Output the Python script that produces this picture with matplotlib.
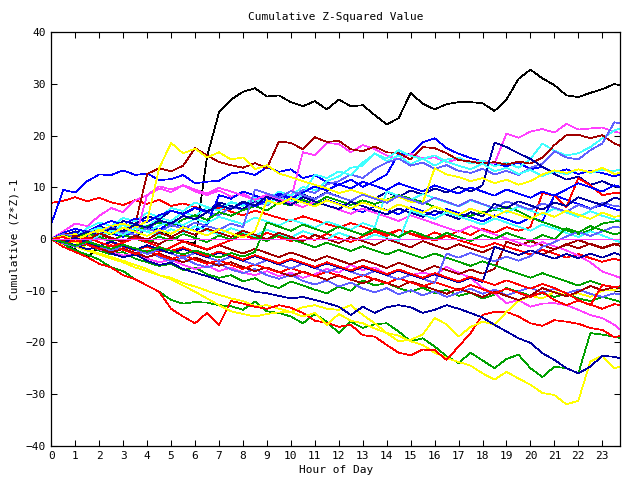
import numpy as np
import matplotlib
matplotlib.use("Agg")
import matplotlib.pyplot as plt

# half-hour samples, 0 .. 24 h
hours = np.arange(0, 24.5, 0.5)

RED, GREEN, BLUE, MAGENTA, CYAN = '#ff0000', '#00a000', '#0000ff', '#ff40ff', '#40ffff'
DARKRED, YELLOW, BLACK, SLATE, NAVY = '#a00000', '#ffff00', '#000000', '#6060ff', '#0000a0'

black_1 = [0, -1, -2, -3.5, -1.5, -2, -0.5, 0.5,
           2, 1.5, 0.5, -0.5, -0.8, 16, 24.5, 27,
           28.5, 29.2, 27.6, 27.8, 26.5, 25.7, 26.7, 25.1,
           27, 25.7, 25.9, 24, 22.2, 23.4, 28.3, 26.2,
           25.1, 26.1, 26.5, 26.5, 26.3, 24.8, 27, 31,
           32.8, 31.1, 29.8, 27.8, 27.5, 28.3, 29, 30, 29.5]
magenta_1 = [0, 1.5, 3, 2.5, 4.5, 6, 5.2, 7.5,
             8.5, 10.2, 9.6, 10.4, 9.2, 8.5, 9.4, 8.2,
             8.8, 7.5, 8.4, 7.2, 7.8, 16.8, 16.2, 18.6,
             18.4, 16.8, 18.2, 17.4, 16.2, 15.4, 16.5, 15.6,
             15.8, 14.9, 15.5, 14.8, 15.2, 14.6, 20.4, 19.6,
             20.8, 21.3, 20.6, 22.3, 21.2, 21.4, 21.6, 20.8, 20.3]
darkred_1 = [0, 0.8, 0.2, 1.5, 0.8, 2.2, 1.6, 2.8,
             12.6, 13.7, 13.1, 14.2, 17.6, 16.2, 14.9, 14.3,
             13.8, 14.7, 13.7, 18.9, 18.6, 17.4, 19.7, 18.8,
             19, 17.4, 17, 17.9, 16.8, 16.6, 15.4, 17.8,
             17.6, 16.6, 15.3, 15, 14.6, 14.9, 14.4, 15,
             14.6, 15.8, 18.2, 20.1, 20.2, 19.5, 20.1, 18.5, 17.6]
slate_1 = [0, -0.6, 0.4, -0.8, 0.5, 1.8, 1.2, 2.6,
           2, 3.4, 2.8, 4.5, 3.9, 5.2, 4.6, 6.3,
           5.6, 7.2, 6.5, 8.4, 7.8, 9.5, 8.9, 10.6,
           11.2, 12.5, 11.8, 13.6, 14.8, 15.6, 14.2, 14.8,
           13.6, 14.3, 13.2, 12.8, 13.6, 12.5, 13.2, 12.4,
           13.8, 14.6, 17, 15.8, 15.4, 17.2, 18.5, 22.6, 22.2]
cyan_1 = [0, -0.5, 0.6, 1.2, 0.3, 1.6, 2.2, 3,
          2.4, 4.1, 3.5, 5.2, 4.4, 6.1, 5.5, 7.2,
          6.5, 8.1, 7.4, 9.2, 8.4, 10.1, 9.4, 11.2,
          12.1, 13.8, 14.2, 16.6, 15.1, 16.2, 14.5, 15.6,
          14.2, 15.4, 15.8, 14.6, 15.2, 14.1, 14.8, 13.8,
          15.5, 18.5, 17.1, 16.2, 16.6, 17.8, 19.5, 21, 21.8]
cyan_2 = [0, 1.1, 0.5, 2.1, 3.2, 2.5, 4.1, 3.4,
          5.1, 4.2, 6, 5.4, 7.1, 6.2, 5.5, 7.1,
          6.4, 7.6, 6.8, 8, 7.2, 8.6, 12.5, 11.8,
          13.1, 12.4, 14.8, 16.5, 15.6, 17.2, 16.1, 15.5,
          16.2, 15, 14.2, 13.5, 14.6, 13.1, 13.8, 12.6,
          13.4, 12.2, 13.1, 12.5, 13.5, 12.8, 13.4, 13.2, 13.7]
blue_1 = [3, 9.5, 9, 11.2, 12.5, 12.4, 13.3, 12.4,
          12.7, 11.4, 11.6, 12.4, 10.8, 11.1, 11.3, 12.7,
          13, 12.4, 13.9, 13, 13.5, 11.8, 12.4, 11,
          10.5, 11.5, 10.1, 11.2, 12.5, 16.6, 16.4, 18.7,
          19.5, 17.6, 16.5, 15.7, 15, 14.6, 14.1, 14.8,
          13.5, 14, 12.8, 13.5, 12.6, 13.2, 12.8, 12.1, 12.9]
navy_1 = [0, 0.6, 1.5, 0.9, 2.4, 1.8, 3.5, 2.9,
          4.4, 3.8, 5.5, 4.9, 6.1, 5.4, 7.1, 6.4,
          5.8, 7.5, 6.9, 8.1, 7.2, 8.6, 7.8, 9.1,
          8.2, 7.4, 8.6, 7.8, 9.1, 8.2, 9.4, 8.6,
          9.8, 9, 10.1, 9.2, 10.4, 18.7, 17.8, 16.6,
          15.5, 14, 12.6, 11.5, 12.1, 10.5, 11.2, 10.2, 9.8]
red_1 = [7, 7.4, 8.1, 7.3, 8, 7.1, 6.6, 7.5,
         6.8, 7.6, 6.4, 6.9, 6.2, 5.4, 6.1, 5.3,
         4.6, 5.5, 4.8, 4.1, 3.5, 4.4, 3.7, 2.9,
         2.2, 3.1, 2.4, 1.6, 0.9, 1.8, 1.1, 0.4,
         -0.3, 0.6, -0.2, -0.9, -1.6, -0.8, -1.5, -2.2,
         -3, -2.1, -2.8, -3.6, -2.9, -3.7, -4.4, -3.8, -4.5]
green_1 = [0, -1, -2.2, -3, -4, -5.5, -6.2, -7.8,
           -9, -10.2, -11.8, -12.5, -12.2, -12.3, -12.8, -13,
           -13.7, -12.1, -14, -14.3, -15, -16.3, -14.5, -16,
           -18.2, -16, -17.2, -16.5, -16.3, -17.9, -19.8, -19.2,
           -20.8, -22.7, -24, -22, -23.5, -25, -23.2, -22.4,
           -25, -26.7, -24.7, -25, -26, -18.2, -18.5, -18.9, -19.5]
red_2 = [0, -1.5, -2.5, -3.5, -4.8, -5.5, -7, -7.8,
         -9, -10.2, -13.5, -15, -16.3, -14.3, -16.6, -12,
         -12.5, -13.1, -13.5, -12.8, -13.3, -14.3, -15.8, -16.2,
         -17, -16.6, -18.6, -18.9, -20.5, -22, -22.5, -21.4,
         -21.5, -23.4, -20.8, -18.2, -14.7, -14.1, -14.1, -15,
         -16.3, -16.8, -15.7, -16, -16.4, -17.2, -17.6, -19, -18.5]
navy_2 = [0, -0.5, -1.2, -2, -1.5, -2.8, -3.5, -3,
          -4.2, -5, -4.6, -5.8, -6.5, -7.2, -8, -8.8,
          -9.5, -10.2, -10.5, -11, -11.5, -11.2, -11.8, -12.4,
          -13.1, -14.7, -13.1, -14.3, -13.2, -12.8, -13.2, -14.3,
          -13.7, -12.8, -13.5, -14.3, -15.2, -16.6, -17.9, -19.2,
          -20.1, -22.1, -23.4, -25, -26, -24.7, -22.6, -22.8, -23.4]
yellow_1 = [0, -0.5, -1.5, -2.2, -3, -3.8, -4.5, -5.5,
            -6.2, -7, -7.5, -8.5, -9.2, -10, -10.8, -11.5,
            -12, -13, -12.8, -13.5, -14.1, -13.2, -12.8, -13.5,
            -13.7, -12.8, -14.7, -16.3, -18.2, -18.7, -19.8, -20.5,
            -22, -23, -23.8, -24.5, -26, -27.2, -25.7, -27,
            -28.2, -29.8, -30.2, -32, -31.3, -23.7, -22.6, -25, -24.4]
yellow_2 = [0, -1, -0.5, -2, -2.8, -3.5, -4.2, -5,
            -5.8, -7, -7.8, -9, -10.2, -11.5, -12.8, -14,
            -14.5, -15, -14.5, -14.2, -14.1, -15, -14.3, -16.6,
            -14.5, -15.8, -16.3, -17.3, -18.2, -19.8, -19.5, -18.5,
            -15.3, -16.5, -18.9, -17, -16, -16.6, -14.1, -12,
            -11, -11.5, -10.2, -11, -10.5, -11.2, -10, -9.9, -8.9]
green_2 = [0, -0.8, -1.5, -1, -2.2, -3, -2.5, -3.8,
           -4.5, -5.2, -4.8, -6, -5.5, -6.8, -7.5, -7,
           -8.2, -7.6, -8.8, -9.5, -8.2, -9, -9.8, -10.5,
           -9.2, -10, -8, -9, -8.5, -9.5, -10.2, -9.4,
           -10.5, -9.8, -11, -10.4, -11.5, -10.8, -9.5, -10.2,
           -11, -10.5, -11.2, -10.6, -11.5, -12, -11.2, -11.8, -12.5]
magenta_2 = [0, -0.5, -1.2, -0.8, -2, -2.5, -3.2, -2.8,
             -3.8, -4.5, -4, -5, -5.8, -5.2, -6.2, -5.5,
             -6.5, -7, -6.2, -7.2, -6.5, -7.5, -6.8, -5.8,
             -6.5, -5, -6, -5.5, -6.8, -6, -7, -6.5,
             -7, -5.4, -6.5, -7.5, -9.5, -10.5, -12.4, -11.8,
             -13.1, -12.5, -12.4, -12.8, -13.7, -14.7, -15.3, -16.6, -18.5]
yellow_3 = [0, 0.5, 1, 0.2, 1.5, 2.5, 3, 2.2,
            3.5, 13.7, 18.6, 16.6, 17.5, 15.8, 16.8, 15.4,
            15.8, 13.5, 14.3, 12.7, 12, 11.2, 10.5, 9.8,
            8.9, 9.5, 8.8, 8, 7.5, 8.2, 7.2, 7,
            13.7, 12.5, 12, 11.2, 11.8, 10.8, 11.5, 10.5,
            11.2, 12.5, 13.3, 12.8, 13.5, 12.9, 13.8, 12.6, 13]
green_3 = [0, 0.4, -0.5, 0.8, 1.5, 0.9, 2.2, 1.6,
           2.5, 3.2, 2.4, 3.8, 4.6, 3.7, 5.2, 4.5,
           5.6, 6.4, 5.5, 7.1, 6.5, 7.6, 6.8, 8.2,
           7.4, 6.6, 7.5, 6.8, 7.6, 8.5, 7.8, 7.2,
           6.2, 5.4, 4.6, 4.5, 5.2, 5.6, 6.2, 5.4,
           4.2, 3.3, 2.5, 1.7, 1, 1.7, 3, 3.4, 3.7]
red_3 = [0, -0.8, 0.3, -0.5, -1.4, -0.6, -1.5, -2.2,
         -1.4, -2.5, -1.6, -0.4, -1.2, -2, -1.1, -0.2,
         0.8, 0, 1.2, 0.4, -0.4, 0.6, -0.2, 1,
         0.2, -0.6, 0.5, 1.4, 0.6, 1.8, 1, 0.2,
         1.3, 0.5, 1.6, 0.8, 2, 1.2, 2.3, 1.6,
         2.3, 8.9, 8.4, 6.2, 11.8, 10.4, 8.5, 8.9, 9]
navy_3 = [0, -0.6, 0.5, 1.4, 0.7, 2.1, 1.5, 2.8,
          2.2, 3.6, 3, 4.5, 3.8, 5.2, 6.6, 5.8,
          7.3, 6.5, 8.2, 7.4, 6.6, 8.1, 7.3, 6.5,
          5.8, 7.2, 6.4, 5.5, 4.8, 5.9, 5.1, 4.3,
          5.5, 4.7, 3.9, 5.2, 4.4, 6.8, 6, 7.3,
          6.5, 5.7, 7.1, 6.4, 8.1, 7.3, 6.6, 8, 7.5]
blue_2 = [0, 0.5, 1.2, 0.6, 1.8, 1.1, 0.4, 1.6,
          2.5, 1.8, 3.2, 2.4, 1.6, 2.8, 8.5, 7.8,
          9.2, 8.4, 7.6, 8.8, 8, 7.2, 6.4, 7.6,
          6.8, 6, 5.2, 6.4, 5.6, 4.8, 6.2, 5.4,
          4.6, 5.8, 5, 4.2, 3.4, 4.6, 3.8, 3,
          4.2, 3.4, 8.5, 7.6, 6.8, 5.9, 6.6, 5.8, 5.2]
slate_2 = [0, -0.7, -1.3, -0.5, -1.6, -2.4, -1.8, -3,
           -2.3, -3.5, -4.3, -3.6, -4.8, -5.5, -4.7, -5.9,
           -6.6, -5.8, -7, -7.7, -6.9, -8.1, -8.8, -8,
           -9.2, -8.4, -9.6, -10.3, -9.5, -10.7, -9.9, -10.9,
           -10.1, -11.2, -10.4, -9.6, -10.6, -9.8, -10.9, -10.1,
           -9.4, -10.4, -9.6, -10.5, -9.8, -10.6, -11.2, -10.5, -11]
slate_3 = [0, 1, 0.3, 1.6, 0.9, 2.3, 1.5, 0.8,
           2, 1.3, 2.7, 2, 3.2, 2.5, 1.8, 3,
           2.3, 9.6, 8.8, 8, 9.3, 8.5, 7.7, 9,
           8.2, 7.4, 8.6, 7.8, 7, 8.4, 7.6, 6.8,
           8, 7.2, 6.4, 7.6, 6.8, 6, 7.3, 6.5,
           5.7, 6.9, 6.1, 5.3, 6.6, 5.8, 7, 6.4, 6.2]
cyan_3 = [0, 0.8, 0.2, 1.4, 2.2, 1.5, 2.8, 2.1,
          1.4, 2.6, 3.4, 2.7, 3.9, 3.1, 4.3, 3.6,
          2.9, 4.2, 3.4, 2.6, 3.8, 3, 2.2, 3.4,
          2.6, 1.8, 3.1, 2.3, 9.2, 8.4, 7.6, 8.7,
          7.9, 7.1, 6.3, 7.5, 6.7, 5.9, 5.1, 6.3,
          5.5, 4.7, 5.9, 5.1, 4.3, 5.4, 4.5, 3.8, 3.7]
cyan_4 = [0, -0.6, 0.3, -0.4, 0.7, 1.5, 0.8, 2.1,
          1.4, 0.7, 1.9, 1.2, 2.5, 1.7, 0.9, 2.1,
          1.3, 0.6, 1.8, 1, 0.3, 1.5, 0.8, 0,
          1.2, 0.4, -0.3, 0.9, 0.2, -0.5, 5.5, 4.7,
          3.9, 5.2, 4.4, 3.6, 2.8, 4, 3.2, 2.4,
          1.6, 2.8, 2, 1.2, 0.4, 1.5, 0.7, -0.2, -1]
magenta_3 = [0, 0.6, -0.2, 0.9, 0.2, -0.5, 0.8, 0.1,
             8.5, 9.8, 9.1, 10.4, 9.6, 8.8, 9.9, 9.2,
             8.4, 7.6, 8.6, 7.8, 7, 6.2, 7.3, 6.5,
             5.7, 4.9, 5.9, 5.1, 4.3, 3.5, 4.6, 3.8,
             3, 2.2, 1.4, 2.5, 1.7, 0.9, 0.1, -0.7,
             -1.5, -0.6, -1.4, -2.2, -3.2, -4.5, -6.3, -7.1, -7.9]
magenta_zero = [0.0] * len(hours)
darkred_2 = [0, 1.2, 0.5, -0.3, 0.9, 0.1, -0.6, 0.6,
             -0.2, -1, 0.3, -0.5, -1.3, -2.1, -1.2, -2,
             -2.8, -1.9, -2.7, -3.5, -2.6, -3.4, -4.2, -3.3,
             -4.1, -4.9, -4, -4.8, -5.6, -4.6, -5.4, -6.2,
             -5.2, -6, -6.8, -5.9, -6.7, -5.8, -0.5, -1.3,
             -0.4, -1.2, -2, -1.1, -0.2, -1, -1.8, -1, -1.7]
darkred_3 = [0, -0.8, -1.5, -0.9, -1.8, -2.6, -1.9, -2.7,
             -3.5, -2.8, -3.7, -4.5, -3.6, -4.4, -5.2, -4.5,
             -5.4, -6.2, -5.5, -6.4, -7.2, -6.3, -7.1, -7.9,
             -7, -7.8, -8.6, -7.7, -8.5, -9.3, -8.2, -9,
             -9.8, -10.6, -9.6, -10.4, -11.2, -10.2, -11, -11.8,
             -10.9, -9.5, -10.3, -11.1, -10.2, -9.1, -9.9, -9.3, -9.9]
red_4 = [0, -0.9, -0.2, -1.1, -1.9, -1.2, -2.1, -2.9,
         -2.2, -3.1, -3.9, -3.1, -4, -4.8, -4.1, -5,
         -5.8, -4.9, -5.7, -6.5, -5.6, -6.4, -7.2, -6.3,
         -7.1, -7.9, -7, -7.8, -8.6, -7.6, -8.4, -9.2,
         -8.3, -9.1, -9.9, -8.9, -9.7, -10.5, -9.6, -10.4,
         -11.2, -10.3, -11.8, -12.8, -11.9, -12.7, -13.5, -12.6, -13]
red_5 = [0, 0.4, -0.5, 0.3, -0.6, -1.4, -0.7, 0.2,
         -0.6, -1.5, -2.3, -1.6, -2.5, -3.3, -2.4, -3.2,
         -4, -3.1, -3.9, -4.7, -3.8, -4.6, -5.4, -4.5,
         -5.3, -6.1, -5.2, -6, -6.8, -5.9, -6.7, -7.5,
         -6.6, -7.4, -8.2, -7.3, -8.1, -8.9, -8, -8.8,
         -9.6, -8.7, -9.5, -10.5, -11.8, -12.8, -8.9, -9.3, -9]
green_4 = [0, 0.7, 0, 1.1, 0.4, -0.4, 0.8, 0.1,
           -0.7, 0.5, -0.3, 1, 0.2, -0.6, 0.7, -0.1,
           1.2, 0.4, -0.4, 0.8, 0, -0.8, -1.6, -0.7,
           -1.5, -2.3, -1.4, -2.2, -3, -2.1, -2.9, -3.7,
           -2.8, -3.6, -4.4, -5.2, -4.3, -5.1, -5.9, -6.7,
           -7.5, -6.6, -7.4, -8.2, -9, -8.1, -8.9, -9.3, -9.5]
navy_4 = [0, -0.7, 0.2, -0.6, -1.4, -0.5, -1.3, -2.1,
          -1.2, -2, -2.8, -1.9, -2.7, -3.5, -2.6, -3.4,
          -4.2, -3.3, -4.1, -4.9, -4, -4.8, -5.6, -4.7,
          -5.5, -6.3, -5.4, -6.2, -7, -6.1, -6.9, -7.7,
          -6.8, -7.6, -8.4, -7.5, -8.3, -1.5, -2.3, -3.1,
          -2.2, -3, -3.8, -2.9, -3.7, -2.8, -3.6, -2.7, -3.5]
darkred_4 = [0, -0.5, 0.6, -0.2, 1.1, 0.3, -0.5, 0.7,
             -0.1, 1.2, 0.4, 1.6, 0.8, 2, 1.2, 0.4,
             1.6, 0.8, 0, 1.2, 0.4, -0.4, 0.8, 0,
             -0.8, 0.4, -0.4, -1.2, 0, -0.8, -1.6, -0.4,
             -1.2, -2, -1, -1.8, -2.6, -1.5, -2.3, -3.1,
             -2.2, -3, -2, -1, -1.8, -0.9, -1.7, -0.9, -0.8]
blue_3 = [0, 1.2, 2, 1.4, 2.6, 3.5, 2.8, 4,
          3.3, 4.6, 5.5, 4.8, 6, 5.2, 6.5, 5.8,
          7, 6.3, 7.5, 8.6, 7.8, 9, 10.2, 9.4,
          10.6, 9.8, 11.1, 10.3, 9.5, 10.8, 10, 9.2,
          10.4, 9.6, 8.8, 10, 9.2, 8.4, 9.6, 8.8,
          8, 9.2, 8.4, 9.6, 10.8, 10, 9.2, 10.4, 9.8]
slate_4 = [0, -0.8, -1.5, -0.6, -1.4, -2.2, -1.3, -2.1,
           -2.9, -2, -2.8, -3.6, -2.7, -3.5, -4.3, -3.4,
           -4.2, -5, -4.1, -4.9, -5.7, -4.8, -5.6, -6.4,
           -5.5, -6.3, -7.1, -6.2, -7, -7.8, -6.9, -7.7,
           -8.5, -2.8, -3.6, -2.7, -3.5, -4.3, -3.4, -4.2,
           -3.3, -1.5, -0.6, 0.5, 1.4, 0.6, 1.5, 2.4, 2]
green_5 = [0, -0.6, -1.3, -0.5, -1.2, -1.9, -1.1, -1.8,
           -2.5, -1.6, -2.3, -3, -2.2, -2.9, -3.6, -2.7,
           -3.4, -2.5, 3.2, 2.4, 1.6, 2.8, 2, 1.2,
           2.4, 1.6, 0.8, 2, 1.2, 0.4, 1.6, 0.8,
           0, 1.2, 0.4, -0.4, 0.8, 0, 1.2, 0.4,
           -0.4, 0.8, 0, 2.1, 1.3, 2.5, 1.7, 0.9, 1.5]
yellow_4 = [0, 0.6, -0.2, 0.9, 1.8, 1, 2.2, 1.4,
            0.6, 1.8, 1, 2.3, 1.5, 0.7, 1.9, 1.1,
            0.3, 1.5, 7.5, 6.7, 7.9, 7.1, 6.3, 7.5,
            6.7, 5.9, 7.1, 6.3, 5.5, 6.7, 5.9, 5.1,
            6.3, 5.5, 4.7, 5.9, 5.1, 4.3, 5.5, 4.7,
            3.9, 5.1, 4.3, 5.5, 4.7, 3.9, 5.1, 4.3, 4.6]

series = [
    (black_1, BLACK), (red_1, RED), (green_1, GREEN), (blue_1, BLUE), (magenta_1, MAGENTA),
    (cyan_1, CYAN), (darkred_1, DARKRED), (yellow_1, YELLOW), (slate_1, SLATE), (navy_1, NAVY),
    (red_2, RED), (green_2, GREEN), (blue_2, BLUE), (magenta_2, MAGENTA), (cyan_2, CYAN),
    (darkred_2, DARKRED), (yellow_2, YELLOW), (slate_2, SLATE), (navy_2, NAVY),
    (red_3, RED), (green_3, GREEN), (blue_3, BLUE), (magenta_3, MAGENTA), (cyan_3, CYAN),
    (darkred_3, DARKRED), (yellow_3, YELLOW), (slate_3, SLATE), (navy_3, NAVY),
    (red_4, RED), (green_4, GREEN), (cyan_4, CYAN), (darkred_4, DARKRED), (yellow_4, YELLOW),
    (slate_4, SLATE), (navy_4, NAVY), (red_5, RED), (green_5, GREEN),
    (magenta_zero, MAGENTA),
]

plt.rcParams['font.family'] = ['DejaVu Sans Mono']
plt.rcParams['font.size'] = 8

fig = plt.figure(figsize=(6.4, 4.8), dpi=100)
ax = fig.add_axes([0.0802, 0.0715, 0.889, 0.861])

for vals, col in series:
    ax.plot(hours, vals, color=col, linewidth=0.5, antialiased=False)

ax.set_xlim(0, 23.75)
ax.set_ylim(-40, 40)
ax.set_xticks(range(0, 24))
ax.set_yticks(range(-40, 41, 10))
ax.tick_params(direction='in', length=4, width=0.75, top=True, right=True, pad=4)
for sp in ax.spines.values():
    sp.set_linewidth(0.9)

ax.set_title('Cumulative Z-Squared Value', fontsize=8, pad=9)
ax.set_xlabel('Hour of Day', labelpad=3)
ax.set_ylabel('Cumulative (Z*Z)-1', labelpad=4)

fig.savefig('out.png', dpi=100)
